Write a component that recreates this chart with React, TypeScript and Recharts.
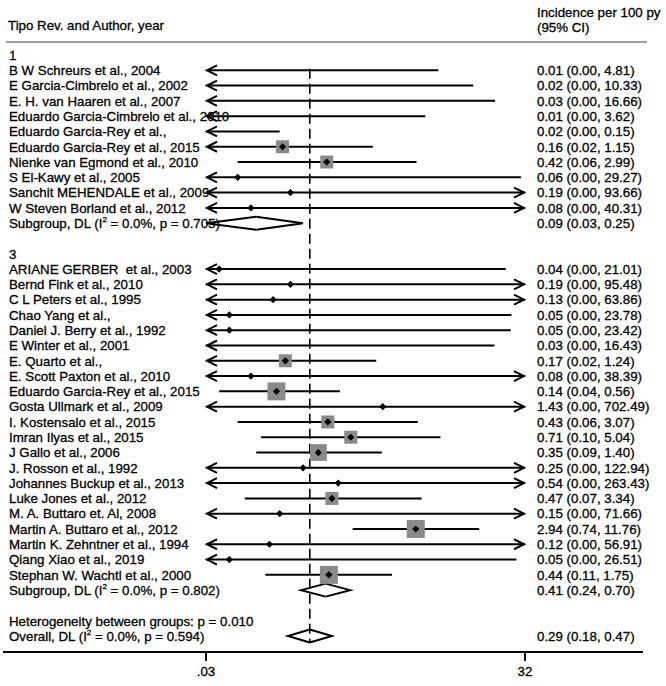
import React from 'react';
import { ComposedChart, XAxis, YAxis, Scatter, ReferenceLine } from 'recharts';

// group "1"
const group1Authors = [
  'B W Schreurs et al., 2004',
  'E Garcia-Cimbrelo et al., 2002',
  'E. H. van Haaren et al., 2007',
  'Eduardo Garcia-Cimbrelo et al., 2010',
  'Eduardo Garcia-Rey et al.,',
  'Eduardo Garcia-Rey et al., 2015',
  'Nienke van Egmond et al., 2010',
  'S El-Kawy et al., 2005',
  'Sanchit MEHENDALE et al., 2009',
  'W Steven Borland et al., 2012',
];
const group1Est = [0.01, 0.02, 0.03, 0.01, 0.02, 0.16, 0.42, 0.06, 0.19, 0.08];
const group1Lo = [0.0, 0.0, 0.0, 0.0, 0.0, 0.02, 0.06, 0.0, 0.0, 0.0];
const group1Hi = [4.81, 10.33, 16.66, 3.62, 0.15, 1.15, 2.99, 29.27, 93.66, 40.31];
const group1Weight = [0.1, 0.1, 0.1, 0.1, 0.1, 6, 6, 0.1, 0.1, 0.1];

// group "3"
const group3Authors = [
  'ARIANE GERBER  et al., 2003',
  'Bernd Fink et al., 2010',
  'C L Peters et al., 1995',
  'Chao Yang et al.,',
  'Daniel J. Berry et al., 1992',
  'E Winter et al., 2001',
  'E. Quarto et al.,',
  'E. Scott Paxton et al., 2010',
  'Eduardo Garcia-Rey et al., 2015',
  'Gosta Ullmark et al., 2009',
  'I. Kostensalo et al., 2015',
  'Imran Ilyas et al., 2015',
  'J Gallo et al., 2006',
  'J. Rosson et al., 1992',
  'Johannes Buckup et al., 2013',
  'Luke Jones et al., 2012',
  'M. A. Buttaro et. Al, 2008',
  'Martin A. Buttaro et al., 2012',
  'Martin K. Zehntner et al., 1994',
  'Qiang Xiao et al., 2019',
  'Stephan W. Wachtl et al., 2000',
];
const group3Est = [0.04, 0.19, 0.13, 0.05, 0.05, 0.03, 0.17, 0.08, 0.14, 1.43, 0.43, 0.71, 0.35, 0.25, 0.54, 0.47, 0.15, 2.94, 0.12, 0.05, 0.44];
const group3Lo = [0.0, 0.0, 0.0, 0.0, 0.0, 0.0, 0.02, 0.0, 0.04, 0.0, 0.06, 0.1, 0.09, 0.0, 0.0, 0.07, 0.0, 0.74, 0.0, 0.0, 0.11];
const group3Hi = [21.01, 95.48, 63.86, 23.78, 23.42, 16.43, 1.24, 38.39, 0.56, 702.49, 3.07, 5.04, 1.4, 122.94, 263.43, 3.34, 71.66, 11.76, 56.91, 26.51, 1.75];
const group3Weight = [0.1, 0.1, 0.1, 0.1, 0.1, 0.1, 6, 0.1, 11.5, 0.1, 6, 6, 10, 0.1, 0.1, 6, 0.1, 11.5, 0.1, 0.1, 11.5];

const subgroupNames = ['1', '3'];
const subgroupEst = [0.09, 0.41];
const subgroupLo = [0.03, 0.24];
const subgroupHi = [0.25, 0.7];
const subgroupI2 = ['0.0', '0.0'];
const subgroupP = ['0.705', '0.802'];

const heterogeneityP = '0.010';
const overallEst = 0.29;
const overallLo = 0.18;
const overallHi = 0.47;
const overallI2 = '0.0';
const overallP = '0.594';

const xTicks = [0.03, 32];

const FONT = '"Liberation Sans", Arial, Helvetica, sans-serif';
const FS = 13.3;
const MIN_X = xTicks[0];
const MAX_X = xTicks[1];

const fmt = (v: number) => v.toFixed(2);
const ciText = (e: number, l: number, h: number) => `${fmt(e)} (${fmt(l)}, ${fmt(h)})`;

type Row = {
  label: string;
  right?: string;
  kind: 'head' | 'study' | 'sub' | 'blank' | 'text' | 'overall';
  est?: number;
  lo?: number;
  hi?: number;
  w?: number;
};

const rows: Row[] = [];
const groups = [
  [group1Authors, group1Est, group1Lo, group1Hi, group1Weight],
  [group3Authors, group3Est, group3Lo, group3Hi, group3Weight],
] as const;

groups.forEach(([authors, est, lo, hi, w], g) => {
  rows.push({ label: subgroupNames[g], kind: 'head' });
  authors.forEach((a, i) => {
    rows.push({ label: a, kind: 'study', est: est[i], lo: lo[i], hi: hi[i], w: w[i], right: ciText(est[i], lo[i], hi[i]) });
  });
  rows.push({
    label: `Subgroup, DL (I² = ${subgroupI2[g]}%, p = ${subgroupP[g]})`,
    kind: 'sub',
    est: subgroupEst[g],
    lo: subgroupLo[g],
    hi: subgroupHi[g],
    right: ciText(subgroupEst[g], subgroupLo[g], subgroupHi[g]),
  });
  rows.push({ label: '', kind: 'blank' });
});
rows.push({ label: `Heterogeneity between groups: p = ${heterogeneityP}`, kind: 'text' });
rows.push({
  label: `Overall, DL (I² = ${overallI2}%, p = ${overallP})`,
  kind: 'overall',
  est: overallEst,
  lo: overallLo,
  hi: overallHi,
  right: ciText(overallEst, overallLo, overallHi),
});

const rowIdx = rows.map((_, i) => i);
const studies = rows.map((r, i) => ({ ...r, y: i })).filter((r) => r.kind === 'study');
const pooled = rows.map((r, i) => ({ ...r, y: i })).filter((r) => r.kind === 'sub' || r.kind === 'overall');
const markers = studies
  .filter((r) => (r.est as number) > MIN_X && (r.est as number) < MAX_X)
  .map((r) => ({ x: r.est, y: r.y, w: r.w }));

const clip = (v: number) => Math.min(Math.max(v, MIN_X), MAX_X);

const LabelText = ({ x, y, text, anchor = 'start' }: any) => {
  const parts = text.split('²');
  return (
    <text
      x={x}
      y={y}
      dy="0.36em"
      textAnchor={anchor}
      fontFamily={FONT}
      fontSize={FS}
      fill="#000"
      stroke="#000"
      strokeWidth={0.3}
      style={{ whiteSpace: 'pre' }}
    >
      {parts.length === 1 ? (
        text
      ) : (
        <>
          <tspan>{parts[0]}</tspan>
          <tspan dy={-6} fontSize={8}>2</tspan>
          <tspan dy={6}>{parts[1]}</tspan>
        </>
      )}
    </text>
  );
};

const LeftTick = ({ y, payload }: any) => {
  const r = rows[payload.value];
  if (!r || !r.label) return null;
  return <LabelText x={9} y={y} text={r.label} />;
};

const RightTick = ({ y, payload }: any) => {
  const r = rows[payload.value];
  if (!r || !r.right) return null;
  return <LabelText x={537} y={y} text={r.right} />;
};

const ciShape = (left: boolean, right: boolean) => (p: any) => {
  const { x1, y1, x2, y2 } = p;
  const a = 11;
  const h = 5;
  return (
    <g>
      <line x1={x1} y1={y1} x2={x2} y2={y2} stroke="#000" strokeWidth={2} />
      {left && (
        <polyline points={`${x1 + a},${y1 - h} ${x1 + 1},${y1} ${x1 + a},${y1 + h}`} fill="none" stroke="#000" strokeWidth={2} />
      )}
      {right && (
        <polyline points={`${x2 - a},${y2 - h} ${x2 - 1},${y2} ${x2 - a},${y2 + h}`} fill="none" stroke="#000" strokeWidth={2} />
      )}
    </g>
  );
};

// half diamonds: left half goes lo -> est, right half est -> hi
const halfDiamond = (side: 'l' | 'r') => (p: any) => {
  const { x1, y1, x2 } = p;
  const h = 6.5;
  const y = y1;
  const poly =
    side === 'l'
      ? `${x1},${y} ${x2},${y - h} ${x2},${y + h}`
      : `${x1},${y - h} ${x2},${y} ${x1},${y + h}`;
  const outline =
    side === 'l'
      ? `${x2},${y - h} ${x1},${y} ${x2},${y + h}`
      : `${x1},${y - h} ${x2},${y} ${x1},${y + h}`;
  return (
    <g>
      <polygon points={poly} fill="#fff" stroke="none" />
      <polyline points={outline} fill="none" stroke="#000" strokeWidth={2} strokeLinejoin="miter" />
    </g>
  );
};

const MarkerShape = (props: any) => {
  const { cx, cy, payload } = props;
  if (cx == null || cy == null) return null;
  const s = 5.3 * Math.sqrt(payload.w);
  const d = 3.6;
  return (
    <g>
      {s > 2 * d && <rect x={cx - s / 2} y={cy - s / 2} width={s} height={s} fill="#8a8a8a" />}
      <polygon points={`${cx},${cy - d} ${cx + d},${cy} ${cx},${cy + d} ${cx - d},${cy}`} fill="#000" />
    </g>
  );
};

const xTickFmt = (v: number) => String(v).replace(/^0\./, '.');

const headStyle: React.CSSProperties = {
  position: 'absolute',
  fontFamily: FONT,
  fontSize: FS,
  lineHeight: '15px',
  color: '#000',
  WebkitTextStroke: '0.3px #000',
};

export default function App() {
  return (
    <div style={{ position: 'absolute', left: 0, top: 0, width: 666, height: 686, background: '#fff' }}>
      <div style={{ ...headStyle, left: 8, top: 18 }}>Tipo Rev. and Author, year</div>
      <div style={{ ...headStyle, left: 537, top: 5 }}>
        Incidence per 100 py
        <br />
        (95% CI)
      </div>
      <div style={{ position: 'absolute', left: 6, top: 41, width: 641, height: 2, background: '#a0a0a0' }} />
      <ComposedChart width={666} height={686} margin={{ top: 47, right: 22, bottom: 0, left: 2 }}>
        <XAxis
          type="number"
          dataKey="x"
          scale="log"
          domain={[0.000355, 422]}
          allowDataOverflow
          ticks={xTicks}
          interval={0}
          tickFormatter={xTickFmt}
          height={34}
          tickSize={9}
          tickMargin={6}
          axisLine={{ stroke: '#000', strokeWidth: 2 }}
          tickLine={{ stroke: '#000', strokeWidth: 2 }}
          tick={{ fill: '#000', fontSize: FS, fontFamily: FONT, stroke: '#000', strokeWidth: 0.3 }}
        />
        <YAxis
          yAxisId="left"
          type="number"
          dataKey="y"
          domain={[-0.523, 39.046]}
          reversed
          allowDataOverflow
          ticks={rowIdx}
          interval={0}
          width={1}
          axisLine={false}
          tickLine={false}
          tick={<LeftTick />}
        />
        <YAxis
          yAxisId="right"
          orientation="right"
          type="number"
          domain={[-0.523, 39.046]}
          reversed
          allowDataOverflow
          ticks={rowIdx}
          interval={0}
          width={1}
          axisLine={false}
          tickLine={false}
          tick={<RightTick />}
        />
        {studies.map((r) => (
          <ReferenceLine
            key={`ci-${r.y}`}
            yAxisId="left"
            segment={[
              { x: clip(r.lo as number), y: r.y },
              { x: clip(r.hi as number), y: r.y },
            ]}
            ifOverflow="visible"
            shape={ciShape((r.lo as number) < MIN_X, (r.hi as number) > MAX_X)}
          />
        ))}
        {pooled.map((r) => (
          <ReferenceLine
            key={`dl-${r.y}`}
            yAxisId="left"
            segment={[
              { x: r.lo as number, y: r.y },
              { x: r.est as number, y: r.y },
            ]}
            ifOverflow="visible"
            shape={halfDiamond('l')}
          />
        ))}
        {pooled.map((r) => (
          <ReferenceLine
            key={`dr-${r.y}`}
            yAxisId="left"
            segment={[
              { x: r.est as number, y: r.y },
              { x: r.hi as number, y: r.y },
            ]}
            ifOverflow="visible"
            shape={halfDiamond('r')}
          />
        ))}
        <ReferenceLine
          yAxisId="left"
          segment={[
            { x: overallEst, y: 0.9 },
            { x: overallEst, y: 38.45 },
          ]}
          ifOverflow="visible"
          stroke="#000"
          strokeWidth={1.6}
          strokeDasharray="10 5"
        />
        <Scatter yAxisId="left" data={markers} shape={<MarkerShape />} isAnimationActive={false} />
      </ComposedChart>
    </div>
  );
}
